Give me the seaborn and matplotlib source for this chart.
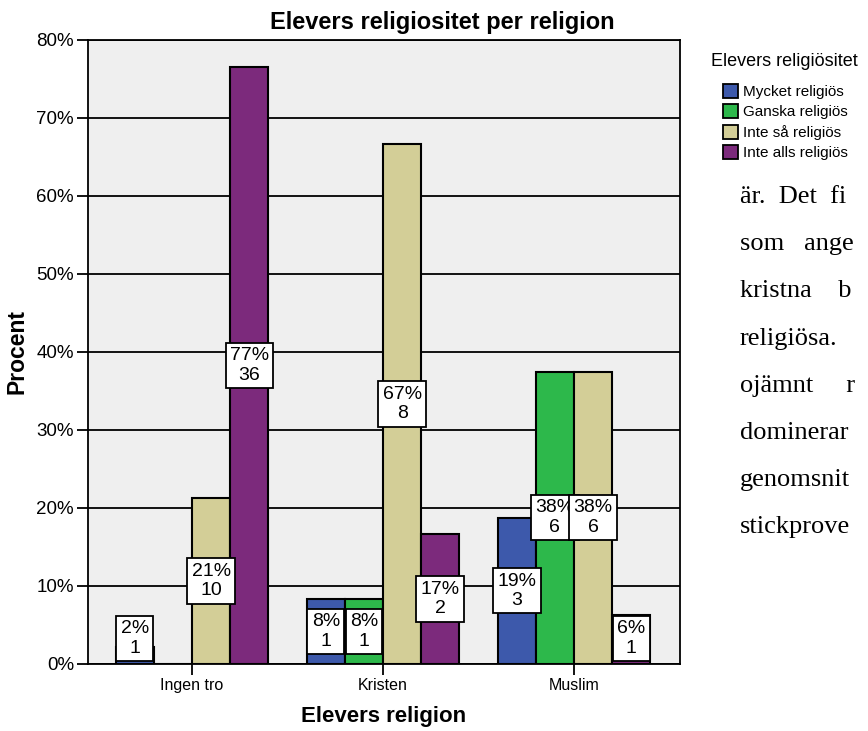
import matplotlib
matplotlib.use('Agg')
import matplotlib.pyplot as plt
import pandas as pd
import seaborn as sns
from matplotlib.patches import Patch

# Data: number of students per religion and religiosity
religions = ['Ingen tro', 'Kristen', 'Muslim']
levels = ['Mycket religiös', 'Ganska religiös', 'Inte så religiös', 'Inte alls religiös']
counts_ingen = [1, 0, 10, 36]
counts_kristen = [1, 1, 8, 2]
counts_muslim = [3, 6, 6, 1]
colors = ['#3D59AB', '#2DB84B', '#D3CE97', '#7C2A7C']

# Surrounding document text (only the part visible in the screenshot)
side_text = ['är.  Det  fi', 'som   ange', 'kristna    b', 'religiösa.',
             'ojämnt     r', 'dominerar', 'genomsnit', 'stickprove']

rows = []
for rel, counts in zip(religions, [counts_ingen, counts_kristen, counts_muslim]):
    total = sum(counts)
    for lev, n in zip(levels, counts):
        rows.append({'religion': rel, 'religiositet': lev, 'antal': n,
                     'procent': n / total * 100})
df = pd.DataFrame(rows)

sns.set_style('white')
plt.rcParams['font.family'] = ['Liberation Sans', 'DejaVu Sans']
plt.rcParams['text.color'] = 'black'
plt.rcParams['axes.labelcolor'] = 'black'
plt.rcParams['xtick.color'] = 'black'
plt.rcParams['ytick.color'] = 'black'

fig = plt.figure(figsize=(8.68, 7.31), dpi=100)
ax = fig.add_axes([88 / 868, 1 - 664 / 731, 592 / 868, 624 / 731])
ax.set_facecolor('#EFEFEF')

sns.barplot(data=df, x='religion', y='procent', hue='religiositet',
            order=religions, hue_order=levels, palette=colors, saturation=1,
            edgecolor='black', linewidth=1.5, width=0.8, legend=False, ax=ax, zorder=3)

ax.set_ylim(0, 80)
ax.set_xlim(-0.545, 2.555)
ax.set_yticks(range(0, 81, 10))
ax.set_yticklabels([f'{v}%' for v in range(0, 81, 10)], fontsize=13.5)
ax.set_xticks(range(3))
ax.set_xticklabels(religions, fontsize=11.5)
ax.tick_params(axis='both', direction='out', length=8, width=1.3, color='black',
               bottom=True, left=True, pad=2)
ax.yaxis.grid(True, color='black', linewidth=1.3, zorder=1)
ax.set_axisbelow(True)
for s in ax.spines.values():
    s.set_color('black')
    s.set_linewidth(1.3)

ax.set_ylabel('Procent', fontsize=16.5, fontweight='bold')
ax.yaxis.set_label_coords(-0.1, 0.5)
ax.set_xlabel('Elevers religion', fontsize=16, fontweight='bold')
ax.xaxis.set_label_coords(0.5, -0.068)

# value labels
for cont, lev in zip(ax.containers, levels):
    sub = df[df['religiositet'] == lev].set_index('religion').loc[religions]
    for bar, (_, r) in zip(cont, sub.iterrows()):
        if r['antal'] == 0:
            continue
        xc = bar.get_x() + bar.get_width() / 2
        yc = max(r['procent'] / 2, 3.3)
        ax.text(xc, yc, f"{round(r['procent'])}%\n{r['antal']}", ha='center', va='center',
                fontsize=14, linespacing=1.2, zorder=5,
                bbox=dict(boxstyle='square,pad=0.22', fc='white', ec='black', lw=1.3))

fig.text(442 / 868, 1 - 22 / 731, 'Elevers religiositet per religion', ha='center',
         va='center', fontsize=17, fontweight='bold')

# legend
fig.text(711 / 868, 1 - 62 / 731, 'Elevers religiösitet', ha='left', va='center', fontsize=13)
handles = [Patch(facecolor=c, edgecolor='black', linewidth=1.3) for c in colors]
fig.legend(handles, levels, loc='upper left', bbox_to_anchor=(723 / 868, 1 - 84 / 731),
           frameon=False, fontsize=11, handlelength=1.0, handleheight=1.0,
           handletextpad=0.3, labelspacing=0.35, borderpad=0, borderaxespad=0)

# text from the surrounding document
for i, line in enumerate(side_text):
    fig.text(740 / 868, 1 - (197 + i * 47.2) / 731, line, ha='left', va='center',
             fontsize=19, family=['Liberation Serif', 'DejaVu Serif'])

fig.savefig('out.png', dpi=100)
